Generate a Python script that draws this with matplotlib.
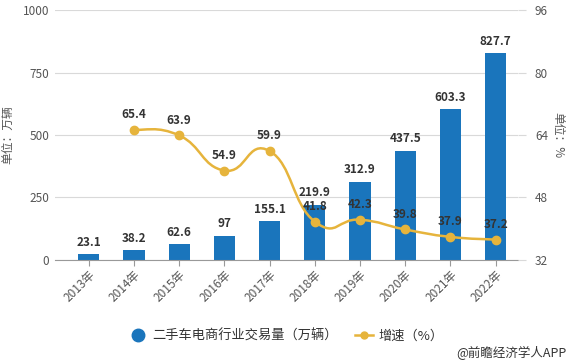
import matplotlib
matplotlib.use("Agg")
import matplotlib.pyplot as plt
from matplotlib.path import Path
from matplotlib.patches import PathPatch
from matplotlib.lines import Line2D
import numpy as np

plt.rcParams['font.family'] = ['Noto Sans CJK SC', 'DejaVu Sans']

years = ['2013年', '2014年', '2015年', '2016年', '2017年',
         '2018年', '2019年', '2020年', '2021年', '2022年']
volume = [23.1, 38.2, 62.6, 97, 155.1, 219.9, 312.9, 437.5, 603.3, 827.7]
growth = [None, 65.4, 63.9, 54.9, 59.9, 41.8, 42.3, 39.8, 37.9, 37.2]

BLUE = '#1a75bc'
GOLD = '#e6b43c'
GRID = '#d9d9d9'
TXT = '#555555'
LBL = '#333333'

fig = plt.figure(figsize=(5.72, 3.63), dpi=100)
ax = fig.add_axes([0.096, 0.284, 0.81, 0.688])
ax2 = ax.twinx()

x = np.arange(len(years))
ax.bar(x, volume, width=0.47, color=BLUE, zorder=2)
for xi, v in zip(x, volume):
    ax.text(xi, v + 22, f'{v:g}', ha='center', va='bottom', fontsize=8.5,
            fontweight='bold', color=LBL, zorder=5)

ax.set_ylim(0, 1000)
ax.set_yticks([0, 250, 500, 750, 1000])
ax.set_xlim(-0.75, 9.5)
ax.set_xticks(x)
ax.set_xticklabels(years, rotation=45, ha='right', rotation_mode='anchor')
ax.grid(axis='y', color=GRID, lw=0.8, zorder=0)
ax.set_axisbelow(True)
ax.tick_params(axis='y', length=0, colors=TXT, labelsize=8.5, pad=4)
ax.tick_params(axis='x', length=4, color='#999999', colors=TXT, labelsize=8.5, pad=2)
for s in ['top', 'right', 'left']:
    ax.spines[s].set_visible(False)
ax.spines['bottom'].set_color('#999999')
ax.set_ylabel('单位：万辆', color=TXT, fontsize=8.5, labelpad=6)

# smoothed growth line (bezier through the points)
gx = np.array([i for i, g in enumerate(growth) if g is not None], dtype=float)
gy = np.array([g for g in growth if g is not None], dtype=float)
pts = np.column_stack([gx, gy])
n = len(pts)
s = 0.25
verts = [pts[0]]
codes = [Path.MOVETO]
for i in range(n - 1):
    p0 = pts[i - 1] if i > 0 else pts[i]
    p1 = pts[i]
    p2 = pts[i + 1]
    p3 = pts[i + 2] if i + 2 < n else pts[i + 1]
    c1 = p1 + s * (p2 - p0)
    c2 = p2 - s * (p3 - p1)
    verts += [c1, c2, p2]
    codes += [Path.CURVE4] * 3
ax2.add_patch(PathPatch(Path(verts, codes), fill=False, edgecolor=GOLD, lw=1.8, zorder=3))
ax2.plot(gx, gy, 'o', color=GOLD, ms=6, zorder=4)
for xi, g in zip(gx, gy):
    ax2.text(xi, g + 2.2, f'{g:g}', ha='center', va='bottom', fontsize=8.5,
             fontweight='bold', color=LBL, zorder=5)

ax2.set_ylim(32, 96)
ax2.set_yticks([32, 48, 64, 80, 96])
ax2.tick_params(axis='y', length=6, color=GRID, colors=TXT, labelsize=8.5, pad=6)
for s_ in ['top', 'right', 'left', 'bottom']:
    ax2.spines[s_].set_visible(False)
ax2.set_ylabel('单位：%', color=TXT, fontsize=8.5, rotation=270, labelpad=12)

handles = [
    Line2D([], [], marker='o', ls='none', color=BLUE, ms=9),
    Line2D([], [], marker='o', color=GOLD, lw=1.8, ms=5),
]
fig.legend(handles, ['二手车电商行业交易量（万辆）', '增速（%）'], loc='center',
           bbox_to_anchor=(0.5, 0.075), ncol=2, frameon=False, fontsize=9.5,
           labelcolor=LBL, handlelength=1.4, columnspacing=1.3, handletextpad=0.4)

fig.text(0.99, 0.028, '@前瞻经济学人APP', ha='right', va='center', fontsize=9, color=LBL)

fig.savefig('out.png', dpi=100, facecolor='white')
